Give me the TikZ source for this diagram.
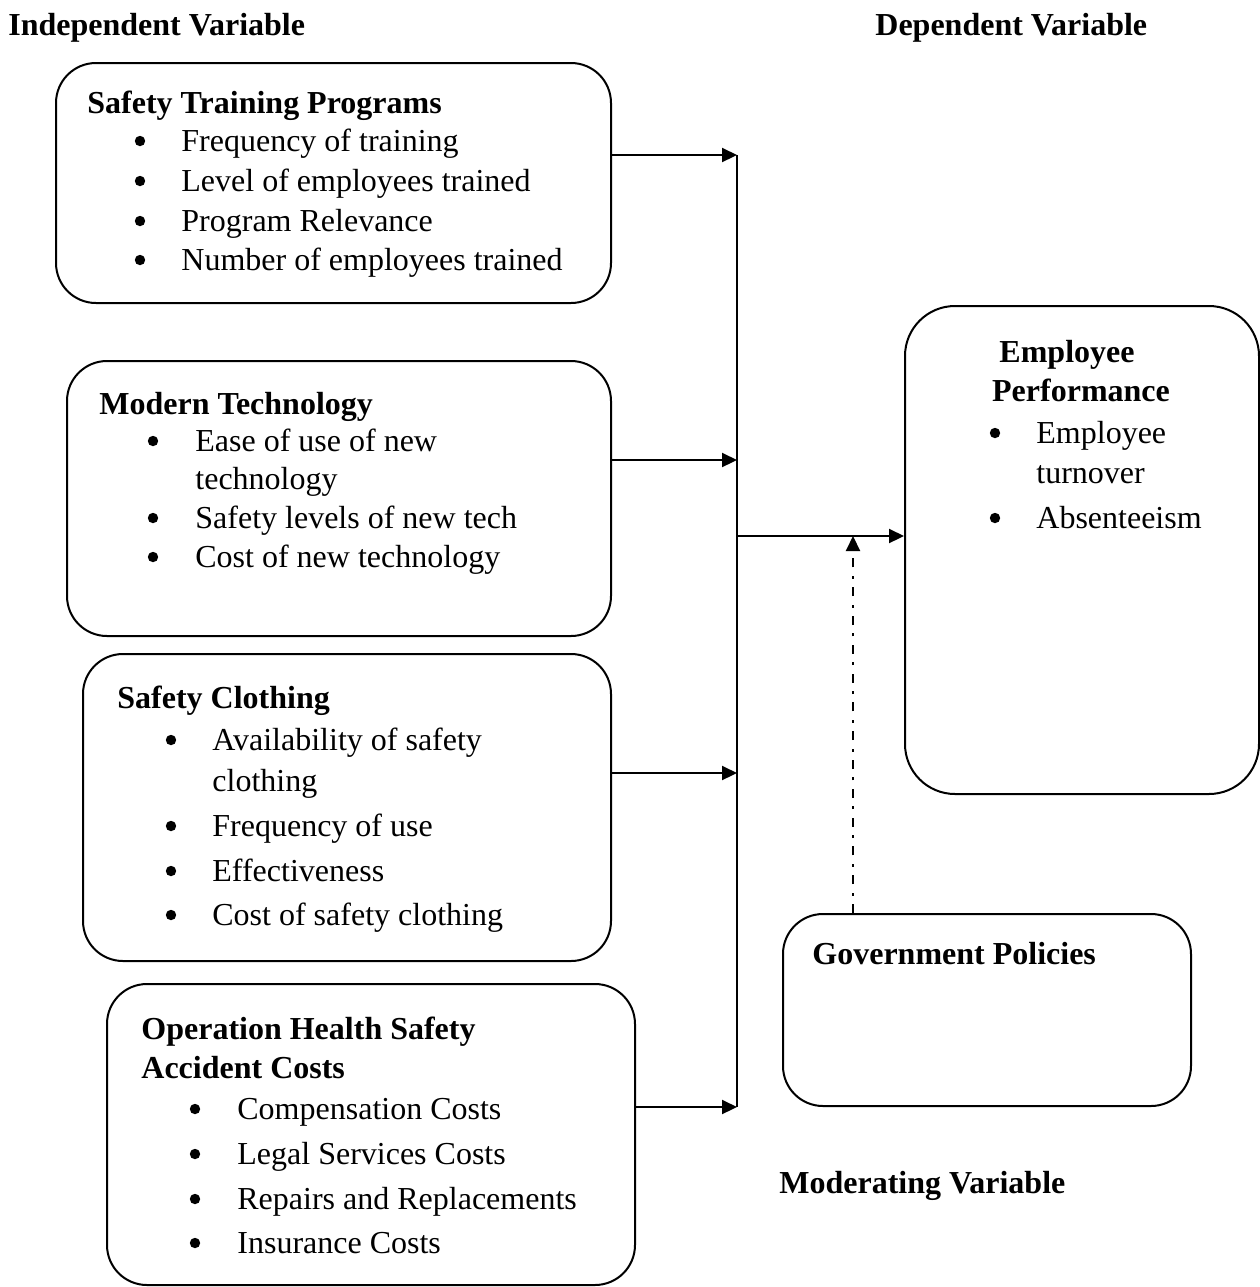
\documentclass[tikz,border=0pt]{standalone}
\usepackage{fontspec}
\setmainfont{Liberation Serif}
\usetikzlibrary{arrows.meta}

\tikzset{
  varbox/.style={draw, line width=1pt, rounded corners=20pt, anchor=north west, inner sep=0pt},
  head/.style={font=\bfseries\fontsize{16}{20}\selectfont, anchor=base west, inner sep=0pt},
  item/.style={font=\fontsize{16}{20}\selectfont, anchor=base west, inner sep=0pt},
  dot/.style={circle, fill, inner sep=0pt, minimum size=5.2pt, yshift=5pt},
  link/.style={line width=1.1pt},
  arr/.style={line width=1.1pt, -{Triangle[length=7.5pt,width=7pt]}},
  modarr/.style={arr, dash pattern=on 4.5pt off 4.2pt on 1.5pt off 4.2pt},
}

\begin{document}
\begin{tikzpicture}[x=0.5pt,y=-0.5pt]
\useasboundingbox (0,0) rectangle (1260,1287);

% headings
\node[head] (indep) at (8,35) {Independent Variable};
\node[head] (dep) at (875,35) {Dependent Variable};
\node[head] (moder) at (779,1193) {Moderating Variable};

% boxes
\node[varbox, minimum width=277.5pt, minimum height=120pt] (b1) at (55,62) {};
\node[varbox, minimum width=272pt, minimum height=137.5pt] (b2) at (66,360) {};
\node[varbox, minimum width=264pt, minimum height=153.5pt] (b3) at (82,653) {};
\node[varbox, minimum width=264pt, minimum height=150.5pt] (b4) at (106,983) {};
\node[varbox, minimum width=177pt, minimum height=244pt, rounded corners=25pt] (b5) at (904,305) {};
\node[varbox, minimum width=204pt, minimum height=96pt] (b6) at (782,913) {};

% safety training
\node[head] (t1) at (87,113) {Safety Training Programs};
\foreach \n/\y/\t in {1/151/Frequency of training, 2/191/Level of employees trained,
    3/231/Program Relevance, 4/270/Number of employees trained} {
  \node[dot] (d1\n) at (140,\y) {};
  \node[item] (i1\n) at (181,\y) {\t};
}

% modern technology
\node[head] (t2) at (99,414) {Modern Technology};
\foreach \n/\y/\t in {1/451/Ease of use of new, 3/528/Safety levels of new tech,
    4/567/Cost of new technology} {
  \node[dot] (d2\n) at (153,\y) {};
  \node[item] (i2\n) at (195,\y) {\t};
}
\node[item] (i22) at (195,489) {technology};

% safety clothing
\node[head] (t3) at (117,708) {Safety Clothing};
\foreach \n/\y/\t in {1/750/Availability of safety, 3/836/Frequency of use,
    4/881/Effectiveness, 5/925/Cost of safety clothing} {
  \node[dot] (d3\n) at (171,\y) {};
  \node[item] (i3\n) at (212,\y) {\t};
}
\node[item] (i32) at (212,791) {clothing};

% accident costs
\node[head] (t4) at (141,1039) {Operation Health Safety};
\node[head] (t4b) at (141,1078) {Accident Costs};
\foreach \n/\y/\t in {1/1119/Compensation Costs, 2/1164/Legal Services Costs,
    3/1209/Repairs and Replacements, 4/1253/Insurance Costs} {
  \node[dot] (d4\n) at (195,\y) {};
  \node[item] (i4\n) at (237,\y) {\t};
}

% employee performance
\node[head, anchor=base] (t5) at (1067,362) {Employee};
\node[head, anchor=base] (t5b) at (1081,401) {Performance};
\node[dot] (d51) at (995,443) {};
\node[item] (i51) at (1036,443) {Employee};
\node[item] (i52) at (1036,483) {turnover};
\node[dot] (d53) at (995,528) {};
\node[item] (i53) at (1036,528) {Absenteeism};

% government policies
\node[head] (t6) at (812,964) {Government Policies};

% connectors
\coordinate (st) at (737,155);
\coordinate (s2) at (737,460);
\coordinate (s3) at (737,773);
\coordinate (sb) at (737,1107);
\coordinate (mid) at (737,536);
\coordinate (mod) at (853,536);
\draw[link] (st) -- (sb);
\draw[arr] (b1.east |- st) -- (st);
\draw[arr] (b2.east |- s2) -- (s2);
\draw[arr] (b3.east |- s3) -- (s3);
\draw[arr] (b4.east |- sb) -- (sb);
\draw[arr] (mid) -- (b5.west |- mid);
\draw[modarr] (b6.north -| mod) -- (mod);
\end{tikzpicture}
\end{document}
